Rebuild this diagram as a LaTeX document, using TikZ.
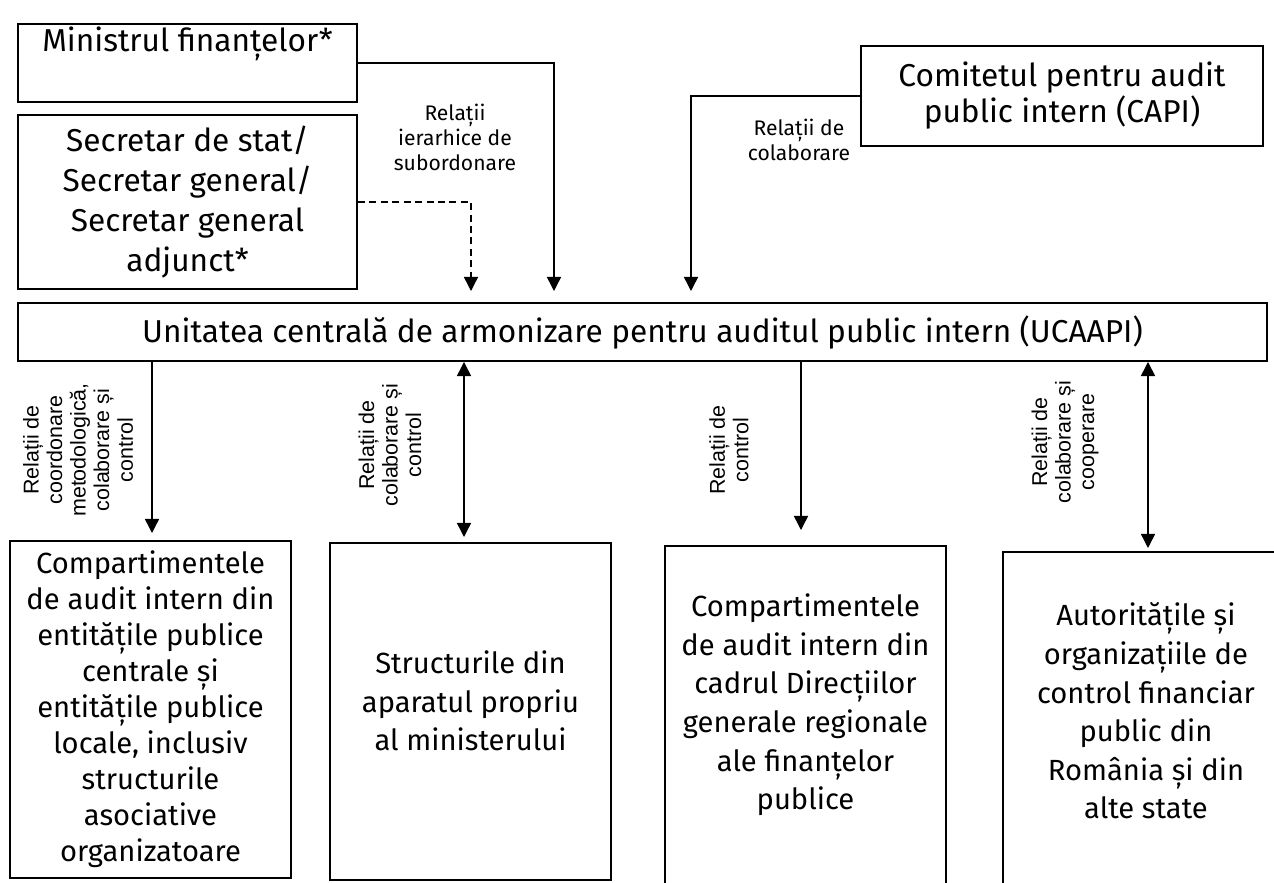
\documentclass[tikz,border=0pt]{standalone}
\usepackage{fontspec}
\setmainfont{Fira Sans}
\newfontfamily\arialfont{Liberation Sans}
\usetikzlibrary{arrows.meta}
\begin{document}
\begin{tikzpicture}[x=1cm,y=1cm,
    box/.style={draw,line width=1.1pt,inner sep=0pt,align=center,
      font=\fontsize{18}{22.8}\selectfont},
    lowbox/.style={draw,line width=1.1pt,inner sep=0pt,align=center,
      minimum width=5.62cm,font=\fontsize{16.6}{20.5}\selectfont},
    lowtext/.style={align=center,inner sep=0pt,font=\fontsize{16.6}{22}\selectfont},
    toplabel/.style={align=center,inner sep=0pt,font=\fontsize{12}{14.2}\selectfont},
    rotlabel/.style={rotate=90,align=center,inner sep=0pt,
      font=\arialfont\fontsize{12.2}{13.4}\selectfont},
    conn/.style={line width=0.8pt,-{Triangle[width=8pt,length=8pt]}},
    conn2/.style={line width=0.8pt,{Triangle[width=8pt,length=8pt]}-{Triangle[width=8pt,length=8pt]}}]
  \useasboundingbox (0,0) rectangle (25.48,-17.66);
  \clip (0,0) rectangle (25.48,-17.66);

  \node[box,minimum width=6.78cm,minimum height=1.56cm] (min) at (3.75,-1.26) {};
  \node[box,draw=none] (mintxt) at (3.75,-0.88) {Ministrul finanțelor*};
  \node[box,minimum width=6.78cm,minimum height=3.48cm] (sec) at (3.75,-4.04)
    {Secretar de stat/\\Secretar general/\\Secretar general\\adjunct*};
  \node[box,minimum width=8.04cm,minimum height=2cm,font=\fontsize{18}{20.5}\selectfont]
    (capi) at (21.24,-1.92) {Comitetul pentru audit\\public intern (CAPI)};
  \node[box,minimum width=24.98cm,minimum height=1.16cm] (ucaapi) at (12.85,-6.64)
    {Unitatea centrală de armonizare pentru auditul public intern (UCAAPI)};

  \node[toplabel] (rel1) at (9.1,-2.74) {Relații\\ierarhice de\\subordonare};
  \node[toplabel] (rel2) at (15.98,-2.8) {Relații de\\colaborare};

  \coordinate (tipmin) at (11.08,-5.82);
  \coordinate (tipsec) at (9.42,-5.82);
  \coordinate (tipcapi) at (13.82,-5.82);
  \draw[conn] (min.east) -| (tipmin);
  \draw[conn,dashed,dash pattern=on 4pt off 2.5pt] (sec.east) -| (tipsec);
  \draw[conn] (capi.west) -| (tipcapi);

  \node[lowbox,minimum height=6.74cm] (b1) at (3.01,-14.19)
    {Compartimentele\\de audit intern din\\entitățile publice\\centrale și\\entitățile publice\\locale, inclusiv\\structurile\\asociative\\organizatoare};
  \node[lowbox,minimum height=6.74cm] (b2) at (9.41,-14.23) {};
  \node[lowtext] (t2) at (9.41,-14.02) {Structurile din\\aparatul propriu\\al ministerului};
  \node[lowbox,minimum height=7.48cm] (b3) at (16.11,-14.66) {};
  \node[lowtext] (t3) at (16.11,-14.1)
    {Compartimentele\\de audit intern din\\cadrul Direcțiilor\\generale regionale\\ale finanțelor\\publice};
  \node[lowbox,minimum width=6.34cm,minimum height=7.36cm] (b4) at (23.23,-14.72) {};
  \node[lowtext] (t4) at (22.92,-14.22)
    {Autoritățile și\\organizațiile de\\control financiar\\public din\\România și din\\alte state};

  \coordinate (tip1) at (3.04,-10.66);
  \coordinate (tip2) at (9.28,-10.74);
  \coordinate (tip3) at (16.02,-10.6);
  \coordinate (tip4) at (22.96,-10.96);
  \draw[conn] (ucaapi.south -| tip1) -- (tip1);
  \draw[conn2] (ucaapi.south -| tip2) -- (tip2);
  \draw[conn] (ucaapi.south -| tip3) -- (tip3);
  \draw[conn2] (ucaapi.south -| tip4) -- (tip4);

  \node[rotlabel] (l1) at (1.56,-9.0) {Relații de\\coordonare\\metodologică,\\colaborare și\\control};
  \node[rotlabel] (l2) at (7.8,-8.9) {Relații de\\colaborare și\\control};
  \node[rotlabel] (l3) at (14.58,-9.0) {Relații de\\control};
  \node[rotlabel] (l4) at (21.3,-8.84) {Relații de\\colaborare și\\cooperare};
\end{tikzpicture}
\end{document}
